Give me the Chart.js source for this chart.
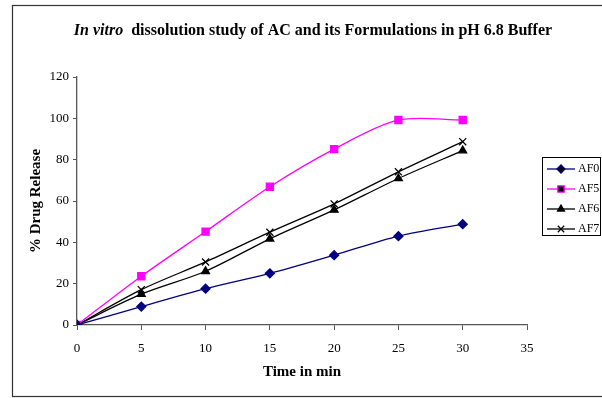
<!DOCTYPE html>
<html>
<head>
<meta charset="utf-8">
<script src="https://cdn.jsdelivr.net/npm/chart.js@4"></script>
<style>
  html, body { margin: 0; padding: 0; background: #fff; }
  #wrap { width: 602px; height: 398px; position: relative; }
</style>
</head>
<body>
<div id="wrap"><canvas id="chart" width="602" height="398"></canvas></div>
<script>
const timePoints = [0, 5, 10, 15, 20, 25, 30];
const seriesNames = ['AF0', 'AF5', 'AF6', 'AF7'];
const af0Values = [0, 8.9, 17.6, 25.0, 33.8, 43.0, 48.8];
const af5Values = [0, 23.6, 45.2, 66.9, 85.1, 99.2, 99.2];
const af6Values = [0, 14.9, 26.0, 41.7, 55.7, 70.9, 84.4];
const af7Values = [0, 17.1, 30.5, 44.9, 58.6, 74.1, 88.7];
const xTicks = [0, 5, 10, 15, 20, 25, 30, 35];
const yTicks = [0, 20, 40, 60, 80, 100, 120];

const serif = '"Liberation Serif", "Times New Roman", serif';

function toPoints(values) {
  return values.map((v, i) => ({ x: timePoints[i], y: v }));
}

const styles = [
  { color: '#000080', point: 'rectRot', radius: 4.5 },
  { color: '#ff00ff', point: 'rect', radius: 5 },
  { color: '#000000', point: 'triangle', radius: 4.5 },
  { color: '#000000', point: 'crossRot', radius: 5 }
];
const allValues = [af0Values, af5Values, af6Values, af7Values];

// outer frame, heading with italic part, boxed legend
const decorPlugin = {
  id: 'decor',
  afterDraw(chart) {
    const ctx = chart.ctx;
    ctx.save();
    ctx.strokeStyle = '#333';
    ctx.lineWidth = 1.2;
    ctx.strokeRect(12.5, 5.5, 600, 391);

    ctx.fillStyle = '#000';
    ctx.textBaseline = 'middle';
    const italicPart = 'In vitro ';
    const restPart = ' dissolution study of AC and its Formulations in pH 6.8 Buffer';
    ctx.font = 'italic bold 16px ' + serif;
    const w1 = ctx.measureText(italicPart).width;
    ctx.font = 'bold 16px ' + serif;
    const w2 = ctx.measureText(restPart).width;
    let x = 313 - (w1 + w2) / 2;
    ctx.textAlign = 'left';
    ctx.font = 'italic bold 16px ' + serif;
    ctx.fillText(italicPart, x, 31);
    ctx.font = 'bold 16px ' + serif;
    ctx.fillText(restPart, x + w1, 31);

    ctx.lineWidth = 1;
    ctx.strokeStyle = '#000';
    ctx.strokeRect(542.5, 157.5, 58, 78);
    ctx.font = '12px ' + serif;
    chart.data.datasets.forEach((ds, i) => {
      const y = 169 + i * 20;
      ctx.strokeStyle = ds.borderColor;
      ctx.lineWidth = 1.3;
      ctx.beginPath();
      ctx.moveTo(547, y);
      ctx.lineTo(575, y);
      ctx.stroke();
      Chart.helpers.drawPoint(ctx, {
        pointStyle: ds.pointStyle,
        radius: ds.pointRadius - 0.5,
        borderWidth: 1.3,
        rotation: 0
      }, 561, y);
      ctx.fillStyle = '#000';
      ctx.fillText(ds.label, 578, y);
    });
    ctx.restore();
  }
};

new Chart(document.getElementById('chart'), {
  type: 'line',
  data: {
    datasets: seriesNames.map((name, i) => ({
      label: name,
      data: toPoints(allValues[i]),
      borderColor: styles[i].color,
      backgroundColor: styles[i].color,
      pointBackgroundColor: styles[i].color,
      pointBorderColor: styles[i].color,
      pointStyle: styles[i].point,
      pointRadius: styles[i].radius,
      pointBorderWidth: 1.3,
      borderWidth: 1.3,
      tension: 0.3
    }))
  },
  options: {
    responsive: false,
    animation: false,
    layout: { padding: { top: 77, right: 75, left: 12, bottom: 0 } },
    plugins: {
      legend: { display: false },
      title: { display: false },
      tooltip: { enabled: false }
    },
    scales: {
      x: {
        type: 'linear',
        min: 0,
        max: 35,
        afterBuildTicks: (scale) => { scale.ticks = xTicks.map((v) => ({ value: v })); },
        afterFit: (scale) => { scale.height = 73; },
        grid: { drawOnChartArea: false, tickLength: 5, color: '#555' },
        border: { color: '#555', width: 1.3 },
        ticks: { color: '#000', padding: 11, font: { family: serif, size: 13 } },
        title: {
          display: true,
          text: 'Time in min',
          color: '#000',
          font: { family: serif, size: 15, weight: 'bold' },
          padding: { top: 0, bottom: 17 }
        }
      },
      y: {
        min: 0,
        max: 120,
        afterBuildTicks: (scale) => { scale.ticks = yTicks.map((v) => ({ value: v })); },
        afterFit: (scale) => { scale.width = 65; },
        grid: { drawOnChartArea: false, tickLength: 4, color: '#555' },
        border: { color: '#555', width: 1.3 },
        ticks: { color: '#000', padding: 4, font: { family: serif, size: 13 } },
        title: {
          display: true,
          text: '% Drug Release',
          color: '#000',
          font: { family: serif, size: 15, weight: 'bold' },
          padding: { top: 15, bottom: 0 }
        }
      }
    }
  },
  plugins: [decorPlugin]
});
</script>
</body>
</html>
